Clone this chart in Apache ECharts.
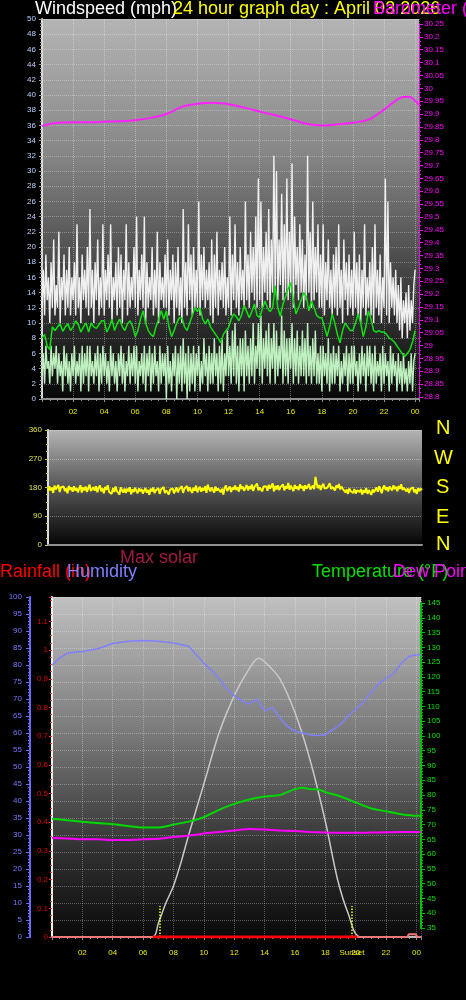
<!DOCTYPE html>
<html><head><meta charset="utf-8">
<script src="https://cdn.jsdelivr.net/npm/echarts@6/dist/echarts.min.js"></script>
<style>html,body{margin:0;padding:0;background:#000;}#c{width:466px;height:1000px;}</style>
</head><body><div id="c"></div>
<script>
// ---- wind panel: gust & speed (5-minute samples, 00:00 .. 24:00) ----
const windGust = [
 12,17,11,19,13,16,10,18,12,21,11,15, 12,22,10,16,13,19,11,17,12,20,11,16,
 13,18,11,23,12,16,10,19,13,17,12,20, 11,25,12,17,10,18,13,21,11,16,12,23,
 11,17,13,19,12,23,10,16,13,18,11,20, 12,19,10,17,13,23,11,18,12,16,13,20,
 12,24,11,17,13,19,12,24,10,18,12,16, 13,20,11,17,12,22,10,18,13,16,12,19,
 12,21,11,17,13,19,10,18,12,20,11,16, 10,25,12,18,11,23,13,19,11,20,12,17,
 12,26,11,19,13,20,12,17,13,18,11,21, 10,19,12,22,11,17,13,18,12,20,11,16,
 12,24,11,19,13,23,12,18,11,20,13,17, 12,26,13,19,12,22,14,20,13,24,12,29,
 13,26,12,20,14,22,13,25,12,21,14,32, 14,30,13,21,15,27,13,23,14,29,13,22,
 14,31,12,24,15,20,13,23,14,21,12,19, 13,32,14,22,12,26,13,20,14,23,12,19,
 12,23,11,18,13,21,12,17,11,19,12,20, 11,23,12,17,10,21,13,18,11,19,12,17,
 11,22,12,18,11,19,10,17,12,23,11,16, 12,18,11,20,10,23,12,17,11,19,10,16,
 12,29,11,26,10,18,12,16,11,17,10,15, 9,16,8,13,10,14,8,15,9,13,10,15, 17];
const windSpeed = [
 3,6,2,7,4,5,2,7,3,6,4,7, 2,6,3,5,1,7,3,6,2,5,1,6, 3,7,2,5,3,6,1,7,2,6,3,7,
 1,7,3,5,2,6,3,7,1,6,2,7, 3,6,2,5,1,7,3,6,2,5,1,6, 3,7,2,6,1,5,3,7,2,6,3,7,
 2,7,1,5,3,6,2,7,1,6,3,7, 1,6,2,7,3,5,1,7,2,6,3,6, 0,7,2,5,1,6,3,7,0,6,2,7,
 1,8,2,6,0,7,1,6,2,7,1,6, 3,7,1,5,2,8,3,6,1,7,2,6, 2,8,3,6,1,7,2,8,1,6,3,9,
 3,7,2,9,3,10,2,7,1,8,3,8, 1,9,3,7,2,8,3,10,2,7,4,10, 3,11,2,8,4,9,3,10,2,8,4,10,
 2,9,3,7,4,11,2,9,3,8,2,8, 4,10,2,8,3,9,2,7,3,9,3,8, 2,10,3,7,2,8,3,9,2,6,2,7,
 1,7,3,6,2,8,1,6,2,7,2,6, 3,7,1,5,2,6,3,7,1,6,2,7, 2,7,3,5,1,6,2,7,3,6,1,7,
 3,7,2,6,1,7,2,5,3,6,1,7, 2,6,3,5,1,7,2,6,3,5,1,6, 2,5,1,6,2,4,1,5,2,6,1,5, 6];
// ---- wind panel: average speed (10-minute samples) ----
const windAvg = [
 8.0,8.5,7.0,6.5,9.5,9.0, 9.5,9.9,8.9,9.5,9.9,9.0, 9.5,10.3,9.8,8.8,9.5,10.0,
 8.8,10.0,9.5,9.3,9.8,10.3, 10.3,8.8,9.5,10.5,9.0,9.9, 10.5,9.5,9.0,9.9,10.3,9.5,
 8.2,9.0,10.5,11.6,10.0,9.0, 8.5,8.2,9.5,10.5,11.6,10.5, 11.6,9.5,8.2,9.0,10.0,10.7,
 10.7,9.5,9.0,10.0,11.0,12.0, 11.5,12.0,10.5,9.9,10.5,9.5, 9.0,8.5,8.0,7.4,8.5,9.0,
 9.4,10.5,11.2,10.8,10.3,11.0, 12.3,11.5,10.7,11.5,12.5,11.0, 10.7,11.8,12.9,12.0,11.5,12.0,
 14.9,12.0,10.9,12.5,13.5,14.5, 15.3,13.0,11.2,12.0,13.0,14.0, 13.5,11.6,12.9,12.0,11.0,10.7,
 10.7,9.5,8.2,9.5,11.2,10.0, 8.5,7.4,9.0,10.0,9.5,9.0, 9.0,10.0,11.2,10.0,8.2,9.5,
 11.6,10.5,9.0,8.8,9.0,8.8, 8.8,8.5,8.0,7.8,7.5,7.0, 6.5,6.0,5.6,6.0,6.5,7.5, 9.0];
// ---- barometer (hourly) ----
const pressHours = [0,1,2,3,4,5,6,7,8,9,10,11,12,13,14,15,16,17,18,19,20,21,22,23,23.6,24.25];
const pressure = [29.853,29.866,29.868,29.868,29.870,29.872,29.876,29.885,29.900,29.928,29.940,29.944,29.938,29.925,29.910,29.895,29.880,29.862,29.855,29.860,29.866,29.878,29.917,29.962,29.967,29.935];
// ---- wind direction (5-minute samples) ----
const windDir = [
 168,184,171,179,163,186,174,170,188,166,181,175, 183,169,177,162,185,172,180,167,184,171,178,165,
 176,187,164,180,171,183,166,178,189,169,175,181, 170,184,165,179,186,168,177,162,182,173,187,167,
 172,160,178,166,183,169,175,158,180,171,164,177, 163,176,168,181,159,174,166,179,170,162,177,168,
 175,161,170,178,164,172,157,176,168,180,163,171, 166,178,160,174,169,182,163,171,176,158,173,167,
 177,162,171,180,165,174,169,184,163,176,170,185, 168,181,172,163,179,170,186,165,175,182,167,178,
 171,184,163,189,176,168,180,172,164,183,170,177, 182,165,176,158,179,186,169,175,183,166,180,173,
 186,172,181,167,190,175,183,170,178,188,171,184, 175,189,169,182,176,192,171,180,186,168,183,177,
 184,170,188,176,181,193,168,185,174,187,172,181, 179,190,171,184,177,194,173,186,180,169,188,176,
 183,172,190,178,185,169,187,176,182,191,174,180, 186,175,213,190,178,188,172,185,192,177,183,179,
 184,193,175,182,188,171,186,179,191,174,183,176, 178,165,174,160,177,169,172,163,175,161,171,168,
 166,175,158,171,164,178,160,172,167,157,174,165, 171,180,167,184,174,162,179,186,172,181,168,183,
 180,171,187,175,182,168,185,176,190,172,179,174, 168,177,163,175,170,181,165,174,160,178,169,176, 172];
// ---- lower panel ----
const humHours = [0,0.5,1,2,3,4,5,6,7,8,9,9.5,10,10.5,11,11.5,12,12.5,13,13.5,14,14.5,15,15.5,16,16.5,17,17.5,18,18.5,19,19.5,20,20.5,21,21.5,22,22.5,23,23.5,24,24.3];
const humidity = [80,82,83.5,84,84.8,86.3,87,87.2,87,86.5,85.5,83,80.5,78.5,76,73,71,69.5,68.5,70,66.5,67.5,64.5,62,60.5,60,59.5,59.3,59.5,61,62.5,65,67,69,72,74.5,76,77.5,80.5,82.5,83,83];
const tempHours = [0,1,2,3,4,5,6,7,8,9,10,11,12,13,14,15,15.5,16,16.5,17,17.5,18,19,20,21,22,23,24,24.3];
const temperature = [72,71.5,71,70.5,70.2,69.5,69,69,70,71,72.5,75,77,78.5,79.5,80,81,82,82.5,82,82,81,79.5,77.5,75.5,74.5,73.5,73,73];
const dewHours = [0,1,2,3,4,5,6,7,8,9,10,11,12,13,14,15,16,17,18,19,20,21,22,23,24,24.3];
const dewPoint = [65.5,65.3,65,65,64.8,64.8,65,65.2,65.8,66.2,67,67.5,68,68.5,68.3,68,67.8,67.5,67.3,67.2,67.2,67.3,67.4,67.5,67.5,67.5];
const solarHours = [0,6.63,7,7.5,8,8.5,9,10,11,12,13,13.6,14,15,16,17,18,18.8,19.5,20.3,24.3];
const maxSolar = [0,0,4,10,15,22,30,45,60,71,79,82,81,76,66,52,34,17,7,0,0];
const rainHours = [0,23.4,23.5,23.95,24.05,24.3];
const rainfall = [0,0,0.01,0.01,0,0];
const rainRateHours = [6.63,20.1];
const rainRate = [0,0];
const sunriseHour = 7.1, sunsetHour = 19.75;
const hourTicks = ['02','04','06','08','10','12','14','16','18','20','22','00'];

const zip = (xs, ys) => ys.map((v, i) => [xs[i], v]);
const fiveMin = arr => arr.map((v, i) => [i / 12, v]);
const tenMin = arr => arr.map((v, i) => [i / 6, v]);
const FONT = 'Liberation Sans, Arial, sans-serif';
const hourFmt = v => { const i = Math.round(v / 2) - 1; return (i >= 0 && i < hourTicks.length && Math.abs(v - Math.round(v)) < 1e-6) ? hourTicks[i] : ''; };
const grad = (stops) => ({type:'linear',x:0,y:0,x2:0,y2:1,colorStops:stops.map(s=>({offset:s[0],color:s[1]}))});
const dotted = c => ({show:true,lineStyle:{type:'dotted',color:c,width:1}});
const AL = (color, width, type) => ({show:true,onZero:false,lineStyle:{color:color,width:width||1,type:type||'solid'}});

const chart = echarts.init(document.getElementById('c'), null, {renderer:'canvas'});
const option = {
  backgroundColor:'#000',
  animation:false,
  textStyle:{fontFamily:FONT},
  grid:[
    {left:42,right:47,top:19,bottom:601,show:true,borderWidth:0,backgroundColor:grad([[0,'#b4b4b4'],[0.35,'#878787'],[0.7,'#3e3e3e'],[1,'#080808']])},
    {left:42,right:47,top:24,bottom:603,show:false},
    {left:48,right:44,top:430,bottom:455,show:true,borderWidth:0,backgroundColor:grad([[0,'#b4b4b4'],[0.5,'#555555'],[1,'#050505']])},
    {left:52,right:45,top:597,bottom:63,show:true,borderWidth:0,backgroundColor:grad([[0,'#c0c0c0'],[0.4,'#7a7a7a'],[0.75,'#303030'],[1,'#0a0a0a']])},
    {left:52,right:45,top:603,bottom:72,show:false}
  ],
  xAxis:[
    {gridIndex:0,type:'value',min:0,max:24.25,interval:2,
     axisLine:AL('#909090',2),
     axisTick:{show:true,length:3,lineStyle:{color:'#909090'}},
     minorTick:{show:true,splitNumber:4,length:2,lineStyle:{color:'#909090'}},
     axisLabel:{color:'#e8e800',fontSize:8,margin:9,formatter:hourFmt,showMinLabel:false},
     splitLine:dotted('rgba(255,255,255,0.35)')},
    {gridIndex:1,type:'value',min:0,max:24.25,show:false},
    {gridIndex:2,type:'value',min:0,max:24,interval:2,
     axisLine:AL('#909090',2),axisTick:{show:false},axisLabel:{show:false},
     splitLine:{show:false}},
    {gridIndex:3,type:'value',min:0,max:24.3,interval:2,
     axisLine:AL('#a0a0a0',2),
     axisTick:{show:true,length:3,lineStyle:{color:'#909090'}},
     minorTick:{show:true,splitNumber:4,length:2,lineStyle:{color:'#909090'}},
     axisLabel:{color:'#e8e800',fontSize:8,margin:12,formatter:hourFmt,showMinLabel:false},
     splitLine:dotted('rgba(255,255,255,0.3)')},
    {gridIndex:4,type:'value',min:0,max:24.3,show:false}
  ],
  yAxis:[
    {gridIndex:0,type:'value',min:0,max:50,interval:2,position:'left',
     axisLine:AL('#dcdcdc',2),
     axisTick:{show:true,length:3,lineStyle:{color:'#a0a0a0'}},
     minorTick:{show:true,splitNumber:4,length:2,lineStyle:{color:'#a0a0a0'}},
     axisLabel:{color:'#b8d4ff',fontSize:8,margin:6},
     splitLine:dotted('rgba(255,255,255,0.3)')},
    {gridIndex:1,type:'value',min:28.8,max:30.25,interval:0.05,position:'right',
     axisLine:AL('#ff00ff',1,'dotted'),
     axisTick:{show:true,length:4,lineStyle:{color:'#ff00ff'}},
     minorTick:{show:true,splitNumber:3,length:2,lineStyle:{color:'#ff00ff'}},
     axisLabel:{color:'#ff00ff',fontSize:8,margin:5,formatter:v=>String(+v.toFixed(2))},
     splitLine:{show:false}},
    {gridIndex:2,type:'value',min:0,max:360,interval:90,position:'left',
     axisLine:AL('#dcdcdc',2),
     axisTick:{show:true,length:3,lineStyle:{color:'#c8c840'}},
     minorTick:{show:true,splitNumber:4,length:2,lineStyle:{color:'#c8c840'}},
     axisLabel:{color:'#e0e050',fontSize:8,margin:6},
     splitLine:dotted('rgba(255,255,255,0.35)')},
    {gridIndex:3,type:'value',min:0,max:100,interval:5,position:'left',offset:22,
     axisLine:AL('#6a6aff',2),
     axisTick:{show:true,length:4,lineStyle:{color:'#6a6aff'}},
     minorTick:{show:true,splitNumber:5,length:2,lineStyle:{color:'#6a6aff'}},
     axisLabel:{color:'#7878ff',fontSize:8,margin:8},
     splitLine:dotted('rgba(255,255,255,0.3)')},
    {gridIndex:3,type:'value',min:0,max:1.185,interval:0.1,position:'left',offset:0,
     axisLine:AL('#f0f0f0',2),
     axisTick:{show:true,length:3,lineStyle:{color:'#e03030'}},
     minorTick:{show:true,splitNumber:4,length:2,lineStyle:{color:'#e03030'}},
     axisLabel:{color:'#e00000',fontSize:8,margin:4,showMaxLabel:false,formatter:v=>String(+v.toFixed(2))},
     splitLine:{show:false}},
    {gridIndex:3,type:'value',min:0,max:100,show:false},
    {gridIndex:4,type:'value',min:35,max:145,interval:5,position:'right',
     axisLine:AL('#00c000',2),
     axisTick:{show:true,length:4,lineStyle:{color:'#00c000'}},
     minorTick:{show:true,splitNumber:5,length:2,lineStyle:{color:'#00c000'}},
     axisLabel:{color:'#00e000',fontSize:8,margin:6},
     splitLine:{show:false}}
  ],
  series:[
    {name:'Gust',type:'line',xAxisIndex:0,yAxisIndex:0,data:fiveMin(windGust),symbol:'none',lineStyle:{color:'#f0f0f0',width:1.4},z:2},
    {name:'Speed',type:'line',xAxisIndex:0,yAxisIndex:0,data:fiveMin(windSpeed),symbol:'none',lineStyle:{color:'#bff0bf',width:1.4},z:3},
    {name:'Average',type:'line',xAxisIndex:0,yAxisIndex:0,data:tenMin(windAvg),symbol:'none',lineStyle:{color:'#10e010',width:1.5},z:4},
    {name:'Barometer',type:'line',xAxisIndex:1,yAxisIndex:1,data:zip(pressHours,pressure),symbol:'none',smooth:0.3,lineStyle:{color:'#ff20ff',width:2},z:5},
    {name:'Direction',type:'line',xAxisIndex:2,yAxisIndex:2,data:fiveMin(windDir),symbol:'none',lineStyle:{color:'#ffff00',width:2},z:3},
    {name:'Max solar',type:'line',xAxisIndex:3,yAxisIndex:5,data:zip(solarHours,maxSolar),symbol:'none',smooth:0.3,lineStyle:{color:'#c8c8c8',width:1.5},z:2},
    {name:'Humidity',type:'line',xAxisIndex:3,yAxisIndex:3,data:zip(humHours,humidity),symbol:'none',lineStyle:{color:'#8080ff',width:1.5},z:3},
    {name:'Rainfall',type:'line',xAxisIndex:3,yAxisIndex:4,data:zip(rainHours,rainfall),symbol:'none',lineStyle:{color:'#f07878',width:2},z:4,
     markLine:{symbol:'none',silent:true,label:{show:false},lineStyle:{color:'#ffff00',type:'dotted',width:1.5},
       data:[[{coord:[sunriseHour,0]},{coord:[sunriseHour,0.108]}],[{coord:[sunsetHour,0]},{coord:[sunsetHour,0.108]}]]}},
    {name:'Rain rate',type:'line',xAxisIndex:3,yAxisIndex:4,data:zip(rainRateHours,rainRate),symbol:'none',lineStyle:{color:'#ff0000',width:3},z:5},
    {name:'Temperature',type:'line',xAxisIndex:4,yAxisIndex:6,data:zip(tempHours,temperature),symbol:'none',smooth:0.2,lineStyle:{color:'#00d800',width:2},z:4},
    {name:'Dew Point',type:'line',xAxisIndex:4,yAxisIndex:6,data:zip(dewHours,dewPoint),symbol:'none',smooth:0.2,lineStyle:{color:'#ff00ff',width:2},z:4}
  ]
};
chart.setOption(option);

const T = (text, x, y, fill, size) => ({type:'text',x:x,y:y,z:100,style:{text:text,fill:fill,font:(size||18)+'px '+FONT,verticalAlign:'top'}});
const sunsetPx = chart.convertToPixel({xAxisIndex:3,yAxisIndex:4},[sunsetHour,0]);
chart.setOption({graphic:[
  T('Windspeed (mph)',35,0,'#ffffff'),
  T('24 hour graph day : April 03 2026',173,0,'#ffff00'),
  T('Barometer (inHg)',373,0,'#ff00ff'),
  T('N',436,418,'#ffff00',20),
  T('W',434,448,'#ffff00',20),
  T('S',436,477,'#ffff00',20),
  T('E',436,507,'#ffff00',20),
  T('N',436,534,'#ffff00',20),
  T('Max solar',120,549,'#a01848'),
  T('Rainfall (in)',0,563,'#ff0000'),
  T('Humidity',67,563,'#8080ff'),
  T('Temperature (°F)',312,563,'#00e000'),
  T('Dew Point (°F)',393,563,'#ff00ff'),
  {type:'text',x:sunsetPx[0],y:949,z:100,style:{text:'Sunset',fill:'#e8e800',font:'8px '+FONT,align:'center',verticalAlign:'top'}}
]});
</script></body></html>
